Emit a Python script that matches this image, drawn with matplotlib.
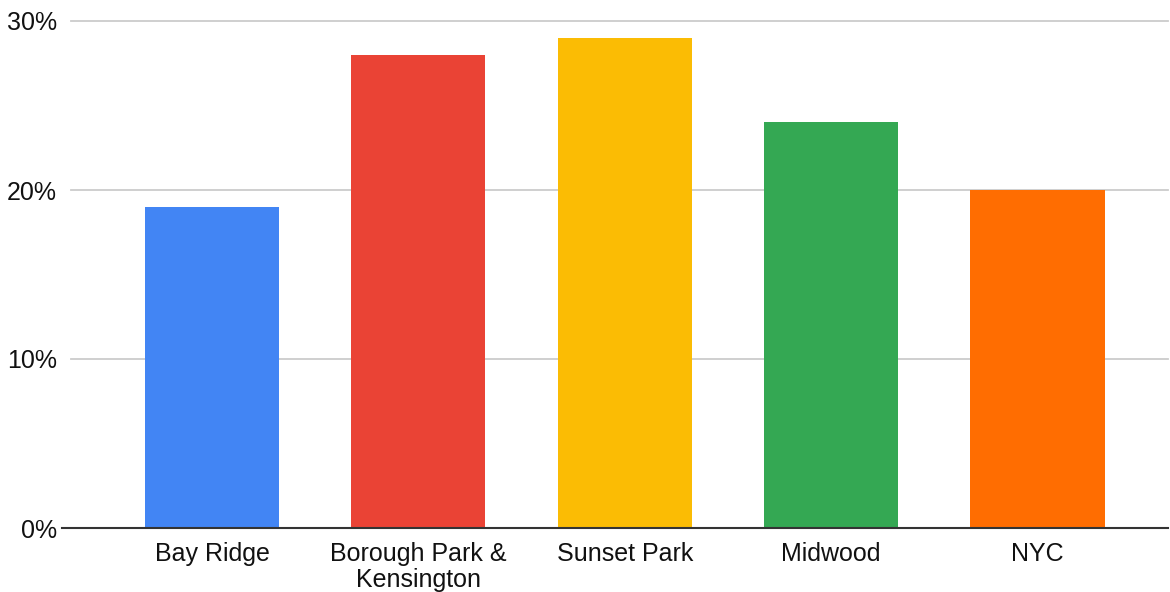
import matplotlib
matplotlib.use("Agg")
import matplotlib.pyplot as plt
from matplotlib.ticker import FuncFormatter

categories = ["Bay Ridge", "Borough Park &\nKensington", "Sunset Park", "Midwood", "NYC"]
values = [19, 28, 29, 24, 20]
colors = ["#4285F4", "#EA4335", "#FBBC04", "#34A853", "#FF6D01"]
yticks = [0, 10, 20, 30]

plt.rcParams['font.family'] = ['Liberation Sans', 'DejaVu Sans']

fig = plt.figure(figsize=(11.7, 5.92), dpi=100)
ax = fig.add_axes([71/1170, 1-528/592, (1168-71)/1170, (528-21)/592])

x = list(range(len(categories)))
ax.bar(x, values, width=0.65, color=colors, zorder=3)

ax.set_xlim(-0.683, 4.632)
ax.set_ylim(0, 30)
ax.set_yticks(yticks)
ax.yaxis.set_major_formatter(FuncFormatter(lambda v, p: f"{int(v)}%"))
ax.set_xticks(x)
ax.set_xticklabels(categories, fontsize=18, color="#111111", linespacing=1.1)
ax.tick_params(axis='y', labelsize=18, labelcolor="#111111", length=0, pad=10)
ax.tick_params(axis='x', length=0, pad=10)

ax.grid(axis='y', color="#cccccc", linewidth=1.3, zorder=0)
for g in ax.get_ygridlines():
    g.set_clip_on(False)
for s in ["top", "right", "left", "bottom"]:
    ax.spines[s].set_visible(False)
ax.axhline(0, xmin=-0.008, xmax=1.0, color="#333333", linewidth=1.5, zorder=4, clip_on=False)

fig.savefig("out.png", dpi=100, facecolor="white")
